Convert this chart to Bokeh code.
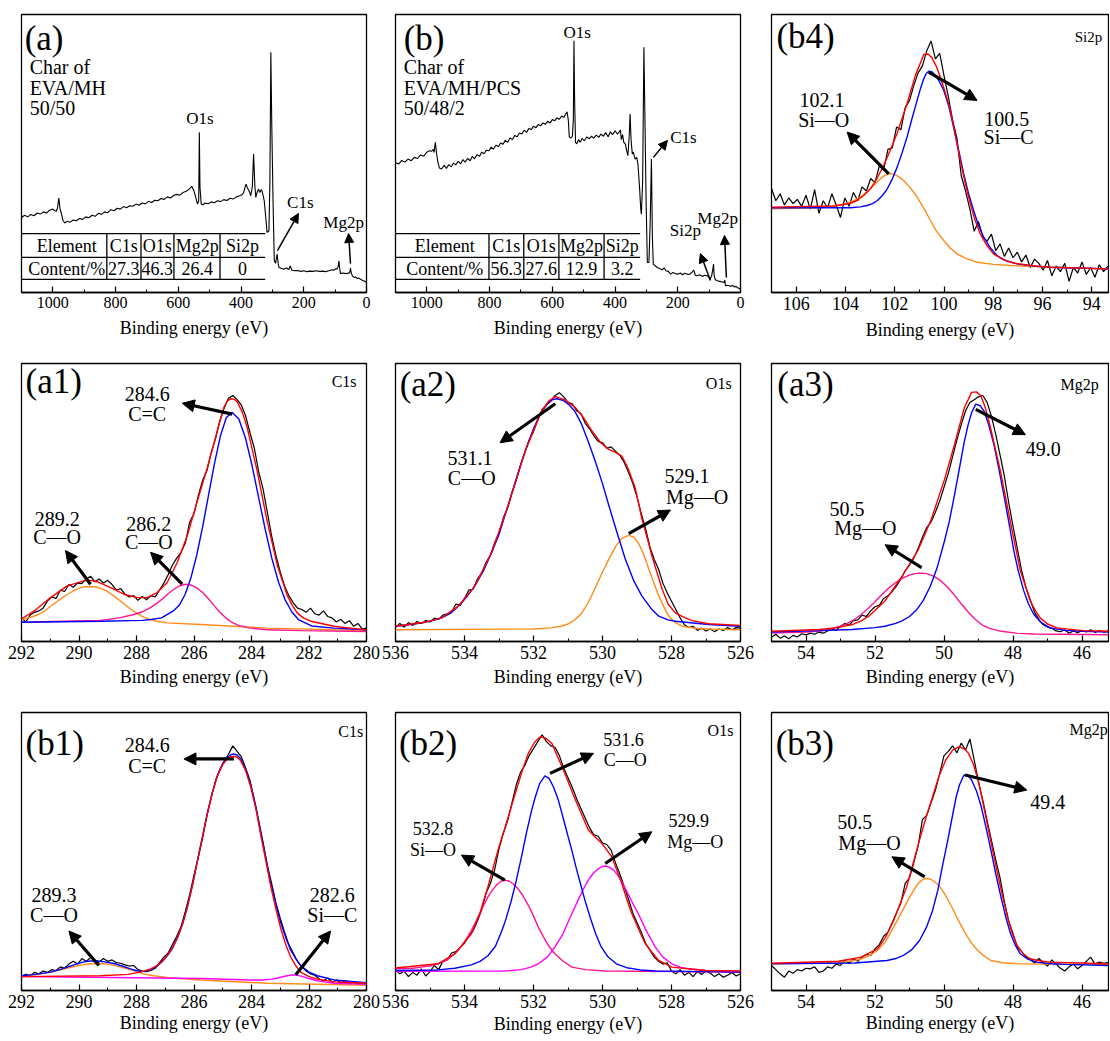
import numpy as np
from bokeh.plotting import figure
from bokeh.layouts import column, row
from bokeh.models import Range1d, FixedTicker, Arrow, NormalHead
from bokeh.core.properties import value
from bokeh.embed import file_html
from bokeh.resources import INLINE

FONT = "Liberation Serif"
RED, BLUE, ORANGE, PINK, MAGENTA = "#ff0000", "#0000ff", "#ff8c1a", "#ff1493", "#ff00ff"

# ---------------- survey spectra (binding energy eV, intensity a.u.) ----------------
survey_a = [
    (1100, 27.0), (1090, 27.8), (1080, 27.2), (1070, 28.1), (1060, 27.6), (1050, 28.6), (1040, 28.2), (1030, 29.0),
    (1020, 28.6), (1010, 29.6), (1000, 30.0), (995, 29.5), (989, 29.2), (985, 30.5), (981, 34.0), (977, 30.0),
    (973, 28.5), (968, 26.0), (962, 25.0), (955, 25.6), (945, 25.3), (935, 26.1), (925, 25.8), (915, 26.6),
    (905, 26.3), (895, 27.2), (885, 26.9), (875, 27.8), (865, 27.4), (855, 28.5), (845, 28.1), (835, 29.0),
    (825, 28.7), (815, 29.8), (805, 29.4), (795, 30.3), (785, 30.0), (775, 30.9), (765, 30.5), (755, 31.2),
    (745, 31.0), (735, 31.8), (725, 31.4), (715, 32.2), (705, 31.9), (695, 32.8), (685, 32.4), (675, 33.2),
    (665, 33.0), (655, 33.8), (645, 33.5), (635, 34.4), (625, 34.0), (615, 34.9), (605, 35.3), (595, 35.0),
    (585, 36.0), (575, 36.4), (565, 37.2), (557, 38.2), (550, 36.5), (544, 34.0), (539, 31.8), (535, 33.0),
    (533, 57.6), (531, 38.0), (527, 31.8), (522, 31.5), (515, 32.2), (505, 31.9), (495, 32.6), (485, 32.3),
    (475, 33.0), (465, 32.7), (455, 33.4), (445, 33.1), (435, 33.9), (425, 33.6), (415, 34.4), (405, 34.8),
    (397, 35.2), (392, 35.8), (388, 37.5), (384, 39.0), (380, 37.8), (376, 36.8), (373, 36.2), (369, 34.8),
    (364, 38.0), (360, 49.8), (356, 38.5), (353, 34.2), (349, 36.0), (344, 37.2), (341, 36.2), (339, 36.0),
    (336, 37.0), (333, 36.6), (330, 35.0), (326, 33.0), (322, 28.0), (317, 21.6), (311, 22.2), (308, 40.0),
    (305, 86.4), (302, 60.0), (298, 33.0), (294, 11.4), (290, 10.5), (285, 13.8), (281, 10.0), (279, 9.0),
    (270, 8.6), (264, 8.4), (255, 8.8), (248, 8.3), (243, 9.6), (238, 8.0), (230, 7.8), (220, 7.9),
    (210, 7.6), (200, 7.8), (190, 7.5), (180, 7.7), (170, 7.6), (160, 7.8), (150, 7.6), (140, 7.7),
    (130, 7.5), (120, 7.8), (110, 8.2), (104, 8.0), (98, 8.6), (94, 8.4), (90, 9.5), (88, 11.4),
    (86, 9.0), (83, 6.8), (75, 7.0), (65, 6.8), (58, 7.0), (56, 6.8), (53, 7.5), (51, 8.8),
    (49, 7.2), (45, 6.0), (40, 5.4), (35, 5.6), (30, 5.0), (25, 5.2), (19, 4.8), (15, 4.5),
    (10, 4.2), (5, 4.0), (0, 3.6)]

survey_b = [
    (1100, 46.8), (1090, 46.2), (1080, 47.5), (1070, 46.9), (1060, 48.0), (1050, 47.4), (1040, 48.6), (1030, 48.2),
    (1020, 49.5), (1010, 49.0), (1000, 50.5), (992, 51.0), (985, 50.8), (980, 51.5), (977, 50.4), (973, 54.0),
    (969, 50.0), (965, 47.0), (960, 44.8), (953, 44.4), (945, 45.8), (938, 44.6), (930, 46.0), (922, 45.2),
    (915, 46.6), (908, 45.9), (900, 47.2), (892, 46.3), (885, 47.8), (878, 46.9), (870, 48.2), (862, 47.4),
    (855, 49.0), (848, 48.1), (840, 49.6), (832, 49.0), (825, 50.5), (818, 49.9), (810, 51.2), (802, 51.0),
    (795, 52.3), (788, 51.5), (780, 53.0), (772, 52.4), (765, 53.8), (757, 53.3), (750, 54.8), (742, 54.0),
    (735, 55.6), (727, 55.0), (720, 56.5), (712, 56.0), (705, 57.4), (697, 57.0), (690, 58.4), (682, 57.6),
    (675, 59.0), (667, 58.6), (660, 59.8), (652, 59.3), (645, 60.4), (637, 60.0), (630, 61.0), (622, 60.5),
    (615, 61.6), (607, 61.0), (600, 62.2), (592, 61.8), (585, 62.8), (578, 62.3), (570, 63.5), (564, 63.0),
    (558, 64.0), (553, 65.0), (549, 62.0), (546, 56.0), (541, 55.5), (536, 56.2), (533, 62.0), (531, 90.6),
    (529, 70.0), (526, 54.0), (522, 53.5), (516, 55.0), (511, 54.0), (505, 55.4), (498, 54.6), (490, 56.0),
    (483, 55.3), (475, 56.2), (468, 55.5), (460, 56.6), (452, 55.8), (445, 57.0), (437, 56.2), (430, 57.5),
    (422, 56.0), (415, 57.8), (408, 56.8), (400, 58.2), (393, 57.0), (386, 57.8), (383, 58.5), (380, 55.0),
    (376, 56.8), (372, 54.0), (367, 53.4), (363, 51.0), (359, 49.2), (355, 56.0), (352, 64.2), (349, 55.0),
    (345, 49.8), (342, 50.5), (340, 49.8), (336, 48.0), (331, 48.6), (327, 46.2), (322, 38.0), (318, 30.0),
    (316, 28.2), (312, 40.0), (308, 88.2), (305, 65.0), (301, 33.0), (297, 10.8), (292, 10.8), (288, 25.0),
    (284, 48.0), (281, 20.0), (278, 10.2), (272, 9.6), (265, 9.0), (258, 8.6), (250, 8.2), (243, 8.8),
    (238, 7.8), (230, 7.6), (223, 6.6), (215, 7.2), (208, 6.8), (200, 6.6), (192, 7.0), (185, 6.4),
    (178, 6.9), (170, 6.6), (163, 6.5), (155, 7.2), (150, 8.0), (148, 7.8), (144, 6.2), (138, 6.0),
    (130, 6.4), (122, 5.8), (114, 6.2), (106, 6.0), (100, 5.4), (97, 4.8), (92, 6.0), (88, 8.5),
    (86, 10.2), (84, 6.0), (80, 4.6), (74, 4.2), (66, 4.0), (58, 3.8), (52, 3.6), (50, 4.5),
    (48, 2.4), (42, 2.6), (36, 2.4), (30, 2.2), (25, 2.6), (20, 2.0), (14, 2.2), (8, 1.6),
    (4, 1.4), (0, 1.2)]

table_elements = ["C1s", "O1s", "Mg2p", "Si2p"]
content_a = [27.3, 46.3, 26.4, 0]
content_b = [56.3, 27.6, 12.9, 3.2]

# ---------------- high-resolution spectra: energy grids ----------------
c1s_be = np.linspace(292.0, 280.0, 81)
o1s_be = np.linspace(536.0, 526.0, 81)
mg2p_be = np.linspace(55.0, 45.25, 79)
si2p_be = np.linspace(107.0, 93.35, 79)

# measured (black) intensities
a1_raw = [8.5, 7.0, 9.5, 10.5, 11.0, 12.0, 14.5, 16.0, 15.5, 18.5,
          18.0, 20.5, 19.5, 21.0, 20.8, 22.5, 23.5, 21.5, 22.5, 21.0,
          22.0, 20.5, 18.5, 19.0, 17.0, 16.0, 16.5, 14.8, 16.2, 15.0,
          16.5, 16.0, 18.5, 21.0, 24.0, 27.5, 30.0, 32.0, 35.5, 43.0,
          46.0, 52.5, 58.0, 61.5, 68.0, 73.0, 79.5, 84.0, 87.5, 88.5,
          87.0, 85.0, 81.0, 75.0, 69.5, 61.0, 55.0, 46.5, 38.0, 31.0,
          25.0, 20.0, 16.5, 14.0, 12.0, 11.5, 10.5, 12.0, 10.0, 9.5,
          11.0, 9.0, 8.5, 7.0, 8.0, 6.5, 7.5, 5.5, 6.5, 4.5, 4.8]
a2_raw = [5.0, 6.5, 5.2, 6.8, 5.8, 7.2, 6.5, 7.6, 7.0, 8.4,
          8.0, 9.5, 10.0, 10.5, 13.5, 13.0, 15.5, 18.5, 18.8, 22.5,
          24.5, 28.5, 31.0, 35.5, 39.0, 44.5, 48.0, 53.5, 58.0, 63.5,
          68.0, 72.5, 75.5, 79.8, 83.5, 85.0, 86.5, 88.5, 89.5, 88.0,
          86.0, 85.5, 83.0, 82.0, 78.5, 76.5, 74.0, 72.0, 71.5, 69.5,
          70.0, 68.5, 67.0, 64.5, 61.0, 57.0, 52.0, 46.0, 40.5, 34.0,
          29.5, 26.0, 21.0, 17.5, 14.5, 11.5, 8.5, 6.0, 5.0, 5.5,
          4.0, 4.8, 3.8, 4.5, 3.5, 4.5, 4.0, 5.0, 4.2, 5.0, 4.8]
a3_raw = [1.5, 2.6, 1.2, 2.0, 1.0, 2.2, 1.6, 2.8, 2.4, 3.0,
          2.6, 3.4, 3.0, 3.8, 4.4, 4.0, 5.5, 6.5, 6.0, 7.5,
          7.8, 9.5, 9.0, 11.0, 12.5, 13.0, 15.5, 16.5, 18.0, 20.0,
          22.5, 25.5, 27.5, 30.0, 33.5, 37.5, 41.0, 43.0, 46.5, 50.5,
          55.5, 60.5, 66.5, 72.5, 78.0, 83.0, 86.0, 87.0, 88.0, 88.5,
          86.0, 81.0, 74.5, 67.0, 59.5, 50.0, 41.5, 33.5, 25.5, 19.5,
          15.0, 10.5, 8.0, 6.0, 5.2, 4.8, 3.8, 3.5, 4.2, 3.0,
          3.8, 3.2, 4.0, 3.4, 4.2, 3.3, 3.9, 3.4, 3.8]
b1_raw = [5.0, 5.8, 5.2, 6.5, 6.0, 7.0, 6.5, 7.5, 7.2, 8.5,
          8.0, 9.5, 10.5, 9.5, 11.5, 10.5, 11.8, 11.0, 10.2, 11.5,
          10.5, 11.0, 10.0, 9.8, 9.2, 8.8, 9.0, 7.5, 7.0, 6.8,
          7.2, 8.0, 10.0, 12.0, 13.5, 16.5, 19.5, 23.0, 28.5, 34.5,
          41.5, 48.0, 55.0, 63.0, 69.5, 75.5, 79.5, 82.5, 85.0, 88.0,
          86.0, 84.0, 80.0, 75.5, 68.5, 61.0, 53.5, 45.0, 38.5, 31.5,
          26.0, 21.0, 16.5, 13.5, 10.5, 8.5, 7.0, 6.0, 5.5, 4.2,
          3.5, 4.5, 3.0, 3.8, 2.8, 3.5, 2.4, 3.0, 2.2, 2.8, 2.5]
b2_raw = [7.5, 6.0, 7.0, 5.0, 6.5, 5.5, 7.8, 5.2, 6.8, 9.0,
          7.5, 10.5, 11.0, 13.5, 14.0, 15.5, 17.0, 19.5, 21.5, 25.0,
          29.0, 35.0, 38.5, 43.5, 51.0, 56.5, 61.0, 67.5, 74.0, 78.5,
          81.0, 84.5, 87.0, 89.5, 92.0, 89.5, 88.0, 87.5, 84.5, 80.0,
          76.5, 73.0, 69.0, 65.5, 62.0, 58.5, 56.0, 55.5, 53.0, 52.5,
          50.5, 46.0, 42.0, 37.5, 33.0, 28.0, 24.5, 21.0, 17.0, 14.5,
          12.0, 10.5, 9.5, 10.0, 7.0, 6.0, 7.5, 5.5, 6.5, 5.0,
          6.8, 5.8, 7.0, 6.2, 5.0, 6.0, 4.8, 5.5, 6.5, 5.2, 6.0]
b3_raw = [9.0, 7.5, 6.0, 4.8, 7.0, 6.2, 7.5, 7.0, 8.0, 7.8,
          8.5, 6.5, 7.0, 8.5, 8.0, 9.5, 9.0, 10.8, 9.8, 11.5,
          10.5, 12.0, 13.0, 12.5, 15.0, 16.5, 19.5, 21.0, 24.5, 28.0,
          31.5, 38.5, 40.5, 46.0, 52.0, 61.5, 63.0, 67.5, 72.0, 78.0,
          84.5, 86.0, 88.0, 85.5, 89.0, 86.5, 90.5, 83.0, 75.0, 68.5,
          61.0, 54.0, 47.0, 40.5, 32.0, 25.0, 20.5, 15.5, 14.0, 12.0,
          11.0, 10.0, 11.5, 10.0, 8.8, 11.0, 9.5, 8.0, 7.0, 8.5,
          9.5, 7.8, 9.0, 10.5, 12.0, 9.5, 10.2, 9.8, 10.0]
b4_raw = [37.5, 33.0, 35.5, 31.5, 34.0, 32.0, 33.5, 31.0, 35.0, 30.0,
          37.0, 28.5, 33.0, 30.5, 35.5, 31.5, 27.0, 34.0, 31.0, 36.0,
          33.0, 38.0, 36.5, 41.0, 39.5, 45.5, 44.0, 51.5, 52.0, 59.5,
          58.5, 66.5, 69.0, 74.5, 79.0, 81.5, 87.0, 90.5, 84.0, 86.0,
          78.0, 70.5, 62.0, 55.5, 42.0, 36.5, 30.0, 22.0, 25.5, 20.0,
          18.5, 21.0, 15.0, 17.5, 13.0, 16.0, 12.5, 14.5, 11.0, 13.5,
          9.0, 12.0, 10.5, 8.0, 11.5, 6.0, 9.5, 7.5, 10.5, 4.0,
          9.0, 7.0, 11.0, 6.5, 9.0, 5.5, 10.0, 7.5, 9.5]

# fitted curves (binding energy, intensity)
a1_fit = [(292.0, 8.1), (291.57, 10.9), (290.99, 15.8), (290.41, 20.0), (289.83, 21.8), (289.6, 22.0), (289.37, 21.5),
          (288.90, 19.4), (288.44, 17.0), (287.97, 15.8), (287.63, 15.8), (287.28, 17.6), (286.93, 21.2), (286.58, 28.5),
          (286.23, 38.2), (285.89, 50.3), (285.54, 62.4), (285.19, 75.8), (284.96, 84.2), (284.84, 86.5), (284.73, 87.3),
          (284.61, 87.2), (284.49, 86.1), (284.32, 82.5), (284.15, 77.0), (283.80, 61.2), (283.45, 43.0), (283.10, 27.3),
          (282.75, 16.4), (282.58, 13.0), (282.41, 10.3), (282.2, 8.5), (281.94, 7.3), (281.13, 5.5), (280.0, 4.2)]
a1_cc = [(292.0, 6.9), (289.25, 7.3), (287.8, 7.6), (287.5, 7.9), (287.13, 8.5), (286.72, 11.0), (286.515, 13.0),
         (286.31, 16.9), (286.105, 23.0), (285.90, 31.3), (285.695, 41.5), (285.49, 52.9), (285.285, 64.2),
         (285.08, 74.0), (284.875, 80.6), (284.67, 82.4), (284.44, 80.0), (284.21, 73.2), (283.98, 63.3),
         (283.75, 51.7), (283.52, 40.2), (283.29, 29.8), (283.06, 21.3), (282.83, 15.0), (282.60, 10.7),
         (282.37, 7.9), (281.91, 5.6), (281.13, 4.8), (280.0, 4.2)]
a1_co = [(292.0, 6.9), (289.25, 7.6), (288.6, 8.5), (288.09, 9.7), (287.8, 10.7), (287.5, 12.3), (287.3, 13.7),
         (287.1, 15.3), (286.9, 17.2), (286.7, 18.8), (286.5, 20.0), (286.29, 20.6), (286.1, 20.3), (285.9, 19.3),
         (285.7, 17.6), (285.5, 15.4), (285.3, 12.9), (285.1, 10.5), (284.9, 8.5), (284.7, 7.0), (284.45, 5.8),
         (284.1, 4.9), (283.45, 4.2), (282.29, 3.9), (280.0, 3.6)]
a1_coo = [(292.0, 7.9), (291.8, 8.4), (291.6, 9.0), (291.4, 9.8), (291.2, 10.9), (291.0, 12.6), (290.8, 14.1),
          (290.6, 15.6), (290.4, 17.0), (290.2, 18.2), (290.0, 19.2), (289.8, 19.7), (289.6, 19.8), (289.4, 19.6),
          (289.2, 18.9), (289.0, 17.9), (288.8, 16.5), (288.6, 14.9), (288.4, 13.2), (288.2, 11.6), (288.0, 10.2),
          (287.8, 9.0), (287.6, 8.1), (287.3, 7.3), (286.93, 6.7), (285.77, 6.1), (283.45, 4.8), (281.13, 4.2),
          (280.0, 4.0)]

a2_fit = [(536.0, 5.5), (535.15, 6.9), (534.66, 8.5), (534.18, 12.7), (533.70, 20.0), (533.21, 32.1), (532.73, 49.1),
          (532.24, 68.5), (531.76, 83.0), (531.55, 86.6), (531.37, 88.1), (531.10, 87.0), (530.79, 84.2), (530.55, 80.5),
          (530.31, 75.8), (530.05, 71.5), (529.82, 69.1), (529.62, 68.0), (529.44, 66.7), (529.35, 64.5), (529.25, 62.0),
          (529.05, 55.2), (528.86, 44.2), (528.7, 37.0), (528.57, 30.9), (528.4, 24.0), (528.27, 18.8), (528.1, 13.5),
          (527.89, 10.3), (527.6, 8.5), (527.40, 7.5), (526.92, 6.4), (526.0, 5.8)]
a2_co = [(536.0, 5.5), (535.5, 6.2), (535.15, 6.9), (534.9, 7.6), (534.66, 8.5), (534.4, 10.2), (534.18, 12.7),
         (533.95, 15.8), (533.70, 20.0), (533.45, 25.5), (533.21, 32.1), (533.0, 38.5), (532.8, 46.5), (532.6, 54.5),
         (532.4, 62.5), (532.2, 70.0), (532.0, 76.5), (531.8, 82.0), (531.6, 85.5), (531.45, 87.0), (531.32, 87.3),
         (531.15, 86.8), (531.0, 85.5), (530.8, 82.8), (530.6, 78.0), (530.4, 71.5), (530.2, 64.5), (530.0, 56.8),
         (529.82, 49.1), (529.6, 40.0), (529.34, 29.7), (529.1, 22.0), (528.86, 16.4), (528.6, 12.0), (528.37, 9.1),
         (528.1, 7.8), (527.89, 7.3), (526.92, 6.1), (526.0, 5.5)]
a2_mgo = [(536.0, 4.2), (532.0, 4.5), (531.5, 4.9), (531.2, 5.5), (531.0, 6.3), (530.8, 7.8), (530.6, 10.2),
          (530.4, 14.3), (530.2, 19.5), (530.0, 25.0), (529.8, 30.0), (529.6, 34.6), (529.45, 37.0), (529.24, 38.2),
          (529.1, 37.6), (528.95, 35.2), (528.8, 31.2), (528.66, 26.1), (528.5, 20.8), (528.37, 16.4), (528.2, 11.9),
          (528.08, 9.1), (527.9, 6.9), (527.69, 5.5), (527.3, 4.7), (526.92, 4.5), (526.0, 4.2)]

a3_fit = [(55.0, 3.7), (53.62, 4.3), (53.1, 5.0), (52.66, 6.1), (52.4, 7.4), (52.18, 9.1), (51.71, 14.6),
          (51.23, 23.2), (50.75, 32.9), (50.37, 43.9), (49.98, 58.5), (49.70, 70.7), (49.41, 84.1), (49.20, 89.6),
          (49.06, 89.8), (48.93, 88.4), (48.80, 84.0), (48.65, 76.8), (48.36, 61.0), (48.07, 42.7), (47.79, 25.6),
          (47.50, 14.6), (47.35, 11.0), (47.21, 8.5), (47.0, 6.3), (46.73, 4.9), (45.97, 3.9), (45.20, 3.7)]
a3_mg = [(55.0, 3.4), (53.6, 3.9), (52.66, 4.3), (52.0, 5.0), (51.71, 5.5), (51.4, 6.5), (51.23, 7.3), (51.0, 9.0),
         (50.8, 11.3), (50.6, 14.8), (50.4, 19.8), (50.2, 26.5), (50.0, 35.5), (49.85, 43.0), (49.7, 52.4),
         (49.55, 62.5), (49.41, 72.0), (49.3, 78.0), (49.2, 82.3), (49.08, 85.4), (48.95, 84.8), (48.84, 82.9),
         (48.7, 77.8), (48.55, 70.7), (48.4, 61.5), (48.26, 52.4), (48.1, 41.5), (47.98, 32.9), (47.85, 25.5),
         (47.69, 18.3), (47.55, 13.5), (47.40, 9.8), (47.2, 7.0), (46.93, 4.9), (46.5, 4.0), (45.97, 3.7), (45.20, 3.4)]
a3_mgo = [(55.0, 3.0), (54.0, 3.4), (53.6, 3.8), (53.3, 4.4), (53.0, 5.5), (52.8, 6.5), (52.6, 7.9), (52.4, 9.7),
          (52.2, 11.9), (52.0, 14.3), (51.8, 16.9), (51.6, 19.2), (51.4, 21.2), (51.2, 22.8), (51.0, 23.9),
          (50.8, 24.5), (50.65, 24.6), (50.5, 24.4), (50.3, 23.5), (50.1, 21.9), (49.9, 19.6), (49.7, 16.7),
          (49.5, 13.6), (49.3, 10.6), (49.1, 8.0), (48.9, 6.0), (48.7, 4.8), (48.4, 3.8), (47.9, 3.0), (47.4, 2.7),
          (45.2, 2.4)]

b1_fit = [(292.0, 5.3), (291.5, 5.8), (290.99, 6.6), (290.7, 7.4), (290.41, 8.4), (290.1, 9.5), (289.83, 10.3),
          (289.6, 10.6), (289.37, 10.6), (289.1, 10.3), (288.79, 9.7), (288.5, 8.8), (288.21, 7.8), (287.95, 7.0),
          (287.74, 6.8), (287.5, 7.6), (287.28, 8.8), (287.1, 10.4), (286.93, 12.5), (286.75, 15.1), (286.58, 18.9),
          (286.4, 23.8), (286.23, 30.1), (286.05, 38.0), (285.89, 46.2), (285.7, 55.5), (285.54, 63.5), (285.37, 70.9),
          (285.19, 77.2), (285.0, 81.6), (284.84, 83.9), (284.72, 84.8), (284.61, 85.1), (284.5, 84.7), (284.38, 83.4),
          (284.2, 79.5), (284.03, 74.0), (283.85, 66.2), (283.68, 56.9), (283.5, 47.5), (283.33, 38.7), (283.15, 31.0),
          (282.99, 24.5), (282.8, 18.8), (282.64, 14.6), (282.45, 11.3), (282.29, 9.0), (282.0, 6.6), (281.71, 5.3),
          (281.13, 3.8), (280.0, 2.8)]
b1_cc = [(292.0, 5.0), (289.25, 5.3), (288.3, 5.8), (287.86, 6.6), (287.5, 7.8), (287.28, 9.0), (287.1, 10.6),
         (286.93, 12.7), (286.75, 15.3), (286.58, 18.9), (286.4, 23.8), (286.23, 30.1), (286.05, 38.0), (285.89, 46.2),
         (285.7, 55.5), (285.54, 63.5), (285.37, 70.8), (285.19, 77.1), (285.0, 81.3), (284.84, 83.3), (284.72, 84.1),
         (284.61, 84.3), (284.5, 83.9), (284.38, 82.7), (284.2, 79.0), (284.03, 73.4), (283.85, 65.5), (283.68, 56.1),
         (283.5, 46.5), (283.33, 37.5), (283.15, 29.3), (282.99, 22.6), (282.8, 16.3), (282.64, 12.1), (282.45, 8.8),
         (282.29, 6.6), (282.0, 5.0), (281.71, 4.1), (281.13, 3.1), (280.0, 2.6)]
b1_co = [(292.0, 5.0), (291.5, 5.7), (290.99, 6.6), (290.7, 7.3), (290.41, 8.0), (290.1, 8.8), (289.83, 9.3),
         (289.6, 9.6), (289.37, 9.7), (289.1, 9.6), (288.90, 9.3), (288.6, 8.6), (288.32, 7.8), (288.0, 6.8),
         (287.74, 5.9), (287.4, 5.3), (286.93, 4.7), (285.77, 3.8), (283.45, 2.6), (280.0, 1.9)]
b1_sic = [(292.0, 5.0), (288.09, 4.6), (285.77, 4.3), (284.03, 3.8), (283.6, 3.8), (283.3, 4.1), (283.05, 4.6),
          (282.8, 5.2), (282.6, 5.6), (282.45, 5.6), (282.25, 5.1), (282.0, 4.3), (281.71, 3.5), (281.4, 3.0),
          (281.13, 2.6), (280.0, 2.2)]

b2_fit = [(536.0, 8.1), (534.77, 9.6), (534.28, 13.2), (533.80, 20.4), (533.55, 28.0), (533.32, 37.3), (533.03, 50.5),
          (532.73, 62.5), (532.44, 74.5), (532.3, 80.0), (532.15, 85.3), (531.97, 89.3), (531.81, 91.2), (531.65, 90.8),
          (531.47, 88.9), (531.09, 78.1), (530.85, 70.5), (530.70, 66.1), (530.41, 57.7), (530.2, 55.0), (530.02, 52.9),
          (529.73, 48.1), (529.44, 38.5), (529.3, 33.0), (529.15, 27.6), (528.95, 22.0), (528.76, 16.8), (528.55, 13.5),
          (528.37, 10.8), (527.99, 8.4), (527.02, 7.2), (526.0, 7.0)]
b2_co = [(536.0, 7.2), (534.77, 7.4), (534.28, 8.0), (533.80, 9.2), (533.55, 10.5), (533.32, 12.5), (533.1, 16.0),
         (532.95, 20.5), (532.83, 24.5), (532.65, 32.0), (532.5, 39.5), (532.35, 48.0), (532.2, 57.0), (532.06, 64.5),
         (531.95, 69.5), (531.82, 74.5), (531.67, 77.2), (531.55, 76.3), (531.42, 73.2), (531.28, 68.5), (531.15, 62.5),
         (531.0, 55.5), (530.89, 50.5), (530.75, 43.5), (530.62, 37.5), (530.51, 32.5), (530.35, 26.0), (530.2, 20.5),
         (530.05, 16.0), (529.85, 12.2), (529.6, 9.6), (529.3, 8.2), (528.9, 7.4), (528.47, 7.0), (526.0, 6.6)]
b2_sio = [(536.0, 7.8), (535.5, 8.0), (535.25, 8.4), (535.0, 8.9), (534.77, 9.6), (534.5, 11.0), (534.28, 13.2),
          (534.05, 16.4), (533.80, 21.6), (533.6, 26.5), (533.45, 30.5), (533.32, 33.7), (533.18, 36.3), (533.05, 38.2),
          (532.93, 39.4), (532.83, 39.7), (532.7, 39.3), (532.6, 38.5), (532.47, 36.9), (532.35, 34.9), (532.2, 31.8),
          (532.05, 28.2), (531.86, 22.8), (531.7, 19.0), (531.55, 15.9), (531.38, 13.2), (531.15, 10.6), (530.89, 8.4),
          (530.5, 7.5), (529.92, 7.0), (526.0, 6.6)]
b2_mgo = [(536.0, 6.9), (532.83, 7.0), (532.35, 7.5), (532.1, 8.3), (531.86, 9.6), (531.6, 12.0), (531.38, 15.6),
          (531.15, 20.3), (530.89, 27.6), (530.7, 32.7), (530.55, 36.6), (530.41, 39.7), (530.28, 42.0), (530.15, 43.5),
          (530.03, 44.5), (529.92, 44.8), (529.8, 44.4), (529.68, 43.3), (529.56, 41.5), (529.44, 39.1), (529.3, 35.8),
          (529.13, 31.5), (528.96, 27.6), (528.75, 22.0), (528.6, 18.6), (528.47, 15.6), (528.25, 12.0), (527.99, 9.6),
          (527.75, 8.4), (527.50, 7.8), (527.0, 7.2), (526.0, 6.6)]

b3_fit = [(55.0, 9.8), (53.06, 10.5), (52.40, 12.0), (51.93, 15.0), (51.7, 19.0), (51.46, 25.2), (51.08, 37.3),
          (50.9, 45.5), (50.71, 54.1), (50.52, 62.3), (50.33, 69.7), (50.15, 77.0), (49.95, 82.9), (49.75, 86.5),
          (49.56, 87.7), (49.40, 86.8), (49.29, 85.3), (49.15, 81.5), (49.01, 75.7), (48.87, 67.5), (48.73, 58.9),
          (48.59, 50.5), (48.45, 42.1), (48.3, 33.8), (48.16, 26.4), (48.02, 20.5), (47.88, 16.2), (47.7, 13.2),
          (47.51, 11.4), (47.2, 10.6), (46.94, 10.2), (45.25, 9.6)]
b3_mg = [(55.0, 9.6), (52.59, 9.9), (51.65, 10.8), (51.4, 11.5), (51.18, 12.6), (50.95, 14.5), (50.71, 18.0),
         (50.5, 23.0), (50.33, 28.8), (50.18, 36.0), (50.05, 44.5), (49.9, 53.5), (49.76, 62.5), (49.65, 69.5),
         (49.55, 74.0), (49.42, 77.5), (49.3, 77.3), (49.2, 75.7), (49.05, 71.5), (48.92, 66.1), (48.78, 58.5),
         (48.64, 50.5), (48.5, 42.0), (48.35, 33.7), (48.2, 26.0), (48.07, 20.4), (47.93, 16.2), (47.79, 13.2),
         (47.6, 11.5), (47.32, 10.2), (46.9, 9.6), (46.47, 9.4), (45.25, 9.0)]
b3_mgo = [(55.0, 9.6), (53.06, 10.0), (52.6, 10.8), (52.40, 11.4), (52.15, 12.6), (51.93, 14.4), (51.7, 17.5),
          (51.46, 22.8), (51.3, 26.5), (51.15, 30.0), (50.99, 33.7), (50.87, 36.3), (50.75, 38.5), (50.63, 39.8),
          (50.52, 40.3), (50.4, 40.1), (50.28, 39.2), (50.15, 37.8), (50.05, 36.1), (49.9, 33.0), (49.75, 29.5),
          (49.58, 25.2), (49.4, 21.0), (49.25, 17.9), (49.11, 15.6), (48.9, 13.0), (48.64, 10.8), (48.3, 10.0),
          (47.88, 9.6), (45.25, 9.4)]

b4_fit = [(107.0, 30.7), (104.47, 31.1), (103.8, 32.1), (103.53, 33.1), (103.25, 35.0), (102.99, 37.3), (102.72, 41.0),
          (102.45, 45.7), (102.18, 51.2), (101.91, 57.1), (101.5, 67.9), (101.16, 78.1), (100.82, 85.6), (100.65, 85.8),
          (100.49, 84.4), (100.32, 81.5), (100.15, 77.5), (99.95, 72.0), (99.74, 65.5), (99.54, 56.5), (99.34, 47.5),
          (99.13, 39.0), (98.93, 31.9), (98.73, 25.8), (98.53, 21.1), (98.25, 16.8), (97.99, 13.9), (97.6, 11.8),
          (97.18, 10.6), (96.4, 9.6), (95.69, 9.1), (93.26, 8.5)]
b4_sic = [(107.0, 30.5), (103.8, 30.5), (103.4, 30.8), (103.12, 31.3), (102.9, 32.0), (102.7, 33.1), (102.5, 34.9),
          (102.3, 37.3), (102.1, 40.8), (101.9, 45.1), (101.7, 50.3), (101.5, 55.9), (101.3, 62.5), (101.09, 69.1),
          (100.95, 73.5), (100.82, 76.9), (100.72, 78.8), (100.62, 79.6), (100.48, 79.3), (100.35, 78.1),
          (100.18, 75.8), (100.01, 72.7), (99.8, 66.8), (99.61, 59.5), (99.4, 51.0), (99.2, 42.7), (99.0, 35.5),
          (98.8, 29.5), (98.6, 24.2), (98.39, 19.9), (98.1, 15.8), (97.85, 13.3), (97.5, 11.5), (97.04, 10.3),
          (96.4, 9.5), (95.69, 9.1), (93.26, 8.5)]
b4_sio = [(107.0, 30.1), (105.15, 30.5), (104.5, 31.0), (104.07, 31.7), (103.7, 32.9), (103.39, 34.3), (103.1, 36.3),
          (102.85, 38.5), (102.65, 40.3), (102.5, 41.5), (102.37, 42.3), (102.24, 42.7), (102.1, 42.7), (101.95, 42.2),
          (101.8, 41.4), (101.64, 40.3), (101.4, 38.0), (101.2, 35.7), (101.09, 34.3), (100.8, 30.0), (100.55, 25.9),
          (100.3, 22.0), (100.01, 18.7), (99.75, 16.0), (99.47, 13.9), (99.1, 12.2), (98.66, 10.9), (98.0, 10.1),
          (97.31, 9.7), (95.69, 9.1), (93.26, 8.4)]


# ---------------- helpers ----------------
def panel(xr, frame_w, left, right, top, bottom, major, minor, tick_px, lab_std=6):
    p = figure(x_range=Range1d(*xr), y_range=Range1d(0, 100),
               frame_width=frame_w, frame_height=278,
               min_border_left=left, min_border_right=right,
               min_border_top=top, min_border_bottom=bottom,
               y_axis_type=None, output_backend="svg", toolbar_location=None)
    p.xgrid.visible = False
    p.background_fill_color = "white"
    p.border_fill_color = "white"
    p.outline_line_color = "black"
    p.outline_line_width = 1.3
    p.outline_line_alpha = 1.0
    ax = p.xaxis[0]
    ax.ticker = FixedTicker(ticks=major, minor_ticks=minor)
    ax.axis_label = "Binding energy (eV)"
    ax.axis_label_text_font = FONT
    ax.axis_label_text_font_style = "normal"
    ax.axis_label_text_font_size = "18px"
    ax.axis_label_text_color = "black"
    ax.axis_label_standoff = lab_std
    ax.major_label_text_font = FONT
    ax.major_label_text_font_size = tick_px
    ax.major_label_text_color = "black"
    ax.major_label_standoff = 4
    ax.major_tick_in = 6
    ax.major_tick_out = 0
    ax.minor_tick_in = 3
    ax.minor_tick_out = 0
    ax.axis_line_color = "black"
    ax.axis_line_width = 1.3
    ax.major_tick_line_color = "black"
    ax.major_tick_line_width = 1.2
    ax.minor_tick_line_color = "black"
    ax.minor_tick_line_width = 1.0
    return p


def curve(p, pairs, color, lw=1.4):
    p.line([a for a, b in pairs], [b for a, b in pairs], line_color=color, line_width=lw)


def raw(p, be, vals, lw=1.2):
    p.line(list(be), vals, line_color="black", line_width=lw)


def txt(p, x, y, s, size="20px", align="center"):
    p.text(x=[x], y=[y], text=[s], text_font=value(FONT), text_font_size=size,
           text_align=align, text_baseline="middle", text_color="black")


def arrow(p, x0, y0, x1, y1, lw=3.2, size=12):
    p.add_layout(Arrow(end=NormalHead(size=size, fill_color="black", line_color="black", line_width=1),
                       x_start=x0, y_start=y0, x_end=x1, y_end=y1,
                       line_color="black", line_width=lw))


def table(p, xl, xr, vlines, centers, first_col, values):
    ys = [21.2, 12.6, 4.7]
    p.segment(x0=[xl] * 3, y0=ys, x1=[xr] * 3, y1=ys, line_color="black", line_width=1.3)
    p.segment(x0=vlines, y0=[4.7] * 4, x1=vlines, y1=[21.2] * 4, line_color="black", line_width=1.3)
    txt(p, first_col, 16.9, "Element", "18px")
    txt(p, first_col, 8.6, "Content/%", "18px")
    for cx, el, v in zip(centers, table_elements, values):
        txt(p, cx, 16.9, el, "18px")
        txt(p, cx, 8.6, f"{v:g}", "18px")


# column geometry: (left border, frame width, right border)
C1 = (21, 345, 14)
C2 = (15, 345, 14)
C3 = (17, 337, 1)
R1 = (14, 69)
R2 = (2, 69)
R3 = (2, 50)
PLAB = "35px"
TICK = "18px"

SURV_MAJ = [0, 200, 400, 600, 800, 1000]
SURV_MIN = [100, 300, 500, 700, 900]
C1S_MAJ = [280, 282, 284, 286, 288, 290, 292]
C1S_MIN = [281, 283, 285, 287, 289, 291]
O1S_MAJ = [526, 528, 530, 532, 534, 536]
O1S_MIN = [527, 529, 531, 533, 535]
MG_MAJ = [46, 48, 50, 52, 54]
MG_MIN = [47, 49, 51, 53, 55]
SI_MAJ = [94, 96, 98, 100, 102, 104, 106]
SI_MIN = [95, 97, 99, 101, 103, 105, 107]

mg_end = 55.0 - 10.0 * C3[1] / 345.0
si_end = 107.0 - 14.0 * C3[1] / 345.0

# ---------------- (a) survey ----------------
pa = panel((1100, 0), C1[1], C1[0], C1[2], R1[0], R1[1], SURV_MAJ, SURV_MIN, "16px", 7)
curve(pa, survey_a, "black", 1.1)
table(pa, 1100, 323, [828, 719, 614, 467], [774, 667, 540, 395], 956, content_a)
txt(pa, 1090, 91.5, "(a)", PLAB, "left")
txt(pa, 1074, 81.0, "Char of", "20px", "left")
txt(pa, 1074, 73.4, "EVA/MH", "20px", "left")
txt(pa, 1074, 66.2, "50/50", "20px", "left")
txt(pa, 531, 62.6, "O1s", "17px")
txt(pa, 211, 32.4, "C1s", "17px")
txt(pa, 73, 25.2, "Mg2p", "17px")
arrow(pa, 284, 15.1, 217, 28.4, 1.5, 9)
arrow(pa, 51, 10.4, 57, 21.2, 1.5, 9)

# ---------------- (b) survey ----------------
pb = panel((1100, 0), C2[1], C2[0], C2[2], R1[0], R1[1], SURV_MAJ, SURV_MIN, "16px", 7)
curve(pb, survey_b, "black", 1.1)
table(pb, 1100, 320, [802, 691, 579, 435], [747, 635, 507, 377], 943, content_b)
txt(pb, 1074, 91.5, "(b)", PLAB, "left")
txt(pb, 1074, 81.0, "Char of", "20px", "left")
txt(pb, 1074, 73.4, "EVA/MH/PCS", "20px", "left")
txt(pb, 1074, 66.2, "50/48/2", "20px", "left")
txt(pb, 521, 93.5, "O1s", "17px")
txt(pb, 182, 55.8, "C1s", "17px")
txt(pb, 176, 22.3, "Si2p", "17px")
txt(pb, 73, 26.6, "Mg2p", "17px")
arrow(pb, 278, 48.6, 233, 54.7, 1.5, 9)
arrow(pb, 96, 4.3, 128, 14.0, 1.5, 9)
arrow(pb, 45, 5.4, 51, 20.5, 1.5, 9)

# ---------------- (b4) Si2p ----------------
pb4 = panel((107.0, si_end), C3[1], C3[0], C3[2], R1[0], R1[1], SI_MAJ, SI_MIN, TICK, 7)
raw(pb4, si2p_be, b4_raw)
curve(pb4, b4_sio, ORANGE)
curve(pb4, b4_sic, BLUE)
curve(pb4, b4_fit, RED)
txt(pb4, 106.8, 92.0, "(b4)", PLAB, "left")
txt(pb4, 94.14, 91.8, "Si2p", "15px")
txt(pb4, 104.95, 69.1, "102.1")
txt(pb4, 104.88, 61.9, "Si\u2014O")
txt(pb4, 97.45, 62.5, "100.5")
txt(pb4, 97.38, 55.9, "Si\u2014C")
arrow(pb4, 102.24, 42.7, 103.93, 57.7)
arrow(pb4, 100.62, 79.3, 98.66, 69.1)

# ---------------- (a1) C1s ----------------
pa1 = panel((292.0, 280.0), C1[1], C1[0], C1[2], R2[0], R2[1], C1S_MAJ, C1S_MIN, TICK, 5)
raw(pa1, c1s_be, a1_raw)
curve(pa1, a1_coo, ORANGE)
curve(pa1, a1_co, PINK)
curve(pa1, a1_cc, BLUE)
curve(pa1, a1_fit, RED)
txt(pa1, 291.86, 93.5, "(a1)", PLAB, "left")
txt(pa1, 280.78, 93.7, "C1s", "16px")
txt(pa1, 287.63, 89.1, "284.6")
txt(pa1, 287.63, 81.8, "C=C")
txt(pa1, 290.76, 44.2, "289.2")
txt(pa1, 290.76, 37.6, "C\u2014O")
txt(pa1, 287.57, 42.4, "286.2")
txt(pa1, 287.57, 35.8, "C\u2014O")
arrow(pa1, 284.67, 81.8, 286.41, 85.7)
arrow(pa1, 289.6, 20.6, 290.47, 32.7)
arrow(pa1, 286.41, 20.6, 287.51, 32.1)

# ---------------- (a2) O1s ----------------
pa2 = panel((536.0, 526.0), C2[1], C2[0], C2[2], R2[0], R2[1], O1S_MAJ, O1S_MIN, TICK, 5)
raw(pa2, o1s_be, a2_raw)
curve(pa2, a2_mgo, ORANGE)
curve(pa2, a2_co, BLUE)
curve(pa2, a2_fit, RED)
txt(pa2, 535.88, 92.5, "(a2)", PLAB, "left")
txt(pa2, 526.63, 92.7, "O1s", "16px")
txt(pa2, 533.84, 66.1, "531.1")
txt(pa2, 533.79, 58.8, "C\u2014O")
txt(pa2, 527.55, 59.4, "529.1")
txt(pa2, 527.26, 52.1, "Mg\u2014O")
arrow(pa2, 531.37, 85.5, 532.97, 71.5)
arrow(pa2, 529.24, 38.8, 528.03, 47.3)

# ---------------- (a3) Mg2p ----------------
pa3 = panel((55.0, mg_end), C3[1], C3[0], C3[2], R2[0], R2[1], MG_MAJ, MG_MIN, TICK, 5)
raw(pa3, mg2p_be, a3_raw)
curve(pa3, a3_mgo, PINK)
curve(pa3, a3_mg, BLUE)
curve(pa3, a3_fit, RED)
txt(pa3, 54.83, 92.5, "(a3)", PLAB, "left")
txt(pa3, 46.07, 92.4, "Mg2p", "16px")
txt(pa3, 47.12, 69.3, "49.0")
txt(pa3, 52.81, 47.6, "50.5")
txt(pa3, 52.28, 40.9, "Mg\u2014O")
arrow(pa3, 49.08, 83.5, 47.64, 74.4)
arrow(pa3, 50.65, 26.6, 51.71, 34.8)

# ---------------- (b1) C1s ----------------
pb1 = panel((292.0, 280.0), C1[1], C1[0], C1[2], R3[0], R3[1], C1S_MAJ, C1S_MIN, TICK, 2)
raw(pb1, c1s_be, b1_raw)
curve(pb1, b1_co, ORANGE)
curve(pb1, b1_sic, MAGENTA)
curve(pb1, b1_fit, BLUE)
curve(pb1, b1_cc, RED)
txt(pb1, 291.86, 88.9, "(b1)", PLAB, "left")
txt(pb1, 280.55, 93.2, "C1s", "16px")
txt(pb1, 287.63, 88.2, "284.6")
txt(pb1, 287.63, 80.8, "C=C")
txt(pb1, 290.87, 34.4, "289.3")
txt(pb1, 290.87, 27.0, "C\u2014O")
txt(pb1, 281.19, 34.4, "282.6")
txt(pb1, 281.19, 27.0, "Si\u2014C")
arrow(pb1, 284.61, 83.3, 286.35, 83.3)
arrow(pb1, 289.31, 9.0, 290.35, 21.4)
arrow(pb1, 282.46, 5.7, 281.25, 21.4)

# ---------------- (b2) O1s ----------------
pb2 = panel((536.0, 526.0), C2[1], C2[0], C2[2], R3[0], R3[1], O1S_MAJ, O1S_MIN, TICK, 3)
raw(pb2, o1s_be, b2_raw)
curve(pb2, b2_sio, PINK)
curve(pb2, b2_mgo, MAGENTA)
curve(pb2, b2_co, BLUE)
curve(pb2, b2_fit, RED)
txt(pb2, 535.9, 88.9, "(b2)", PLAB, "left")
txt(pb2, 526.58, 93.5, "O1s", "16px")
txt(pb2, 529.39, 90.4, "531.6", "18px")
txt(pb2, 529.34, 82.9, "C\u2014O", "18px")
txt(pb2, 534.91, 58.3, "532.8", "18px")
txt(pb2, 534.91, 50.5, "Si\u2014O", "18px")
txt(pb2, 527.50, 61.3, "529.9", "18px")
txt(pb2, 527.31, 53.5, "Mg\u2014O", "18px")
arrow(pb2, 531.52, 78.1, 530.26, 85.3)
arrow(pb2, 532.83, 39.7, 534.09, 48.7)
arrow(pb2, 529.92, 45.7, 528.57, 57.1)

# ---------------- (b3) Mg2p ----------------
pb3 = panel((55.0, mg_end), C3[1], C3[0], C3[2], R3[0], R3[1], MG_MAJ, MG_MIN, TICK, 2)
raw(pb3, mg2p_be, b3_raw)
curve(pb3, b3_mgo, ORANGE)
curve(pb3, b3_mg, BLUE)
curve(pb3, b3_fit, RED)
txt(pb3, 54.88, 88.9, "(b3)", PLAB, "left")
txt(pb3, 45.81, 93.8, "Mg2p", "16px")
txt(pb3, 46.99, 67.9, "49.4")
txt(pb3, 52.59, 60.7, "50.5")
txt(pb3, 52.16, 52.9, "Mg\u2014O")
arrow(pb3, 49.39, 77.5, 47.6, 72.1)
arrow(pb3, 50.56, 40.9, 51.51, 48.1)

layout = column(row(pa, pb, pb4), row(pa1, pa2, pa3), row(pb1, pb2, pb3))

with open("out.html", "w") as f:
    f.write(file_html(layout, INLINE))
